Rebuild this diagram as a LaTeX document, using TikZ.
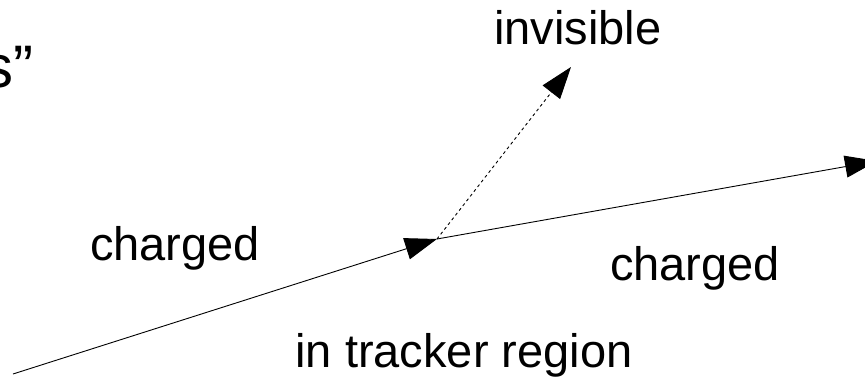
\documentclass[tikz,border=0pt]{standalone}
\usepackage{fontspec}
\setmainfont{Liberation Sans}
\usetikzlibrary{arrows.meta}
\begin{document}
\begin{tikzpicture}[x=1pt,y=-1pt,
  lbl/.style={font=\fontsize{47}{56}\selectfont, inner sep=0pt, anchor=base},
  ttl/.style={font=\fontsize{60}{70}\selectfont, inner sep=0pt, anchor=base east},
  trk/.style={line width=0.9pt, -{Triangle[length=32pt,width=22pt]}},
  inv/.style={trk, dash pattern=on 3pt off 3pt}]
\useasboundingbox (0,0) rectangle (865,382);
\coordinate (start) at (13,374);
\coordinate (kink) at (437,239);
\coordinate (endB) at (877,161);
\coordinate (endInv) at (571,67);
\draw[trk] (start) -- (kink);
\draw[trk] (kink) -- (endB);
\draw[inv] (kink) -- (endInv);
\node[ttl] (title) at (34,88) {s”};
\node[lbl] (inv) at (578,45) {invisible};
\node[lbl] (chL) at (175,261) {charged};
\node[lbl] (chR) at (695,280) {charged};
\node[lbl] (reg) at (464,367) {in tracker region};
\end{tikzpicture}
\end{document}
